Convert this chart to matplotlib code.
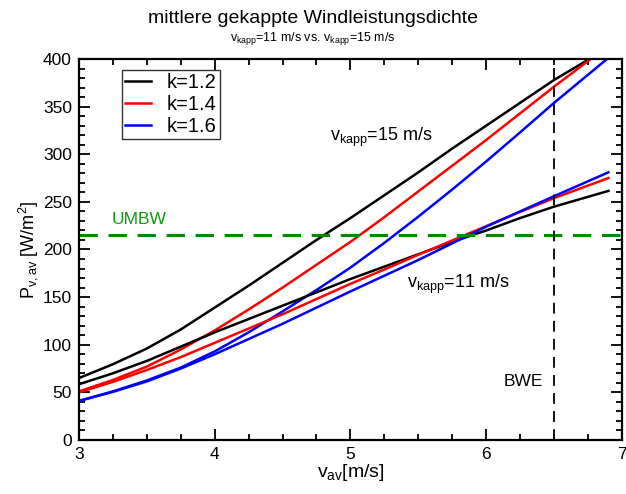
import matplotlib
matplotlib.use("Agg")
import matplotlib.pyplot as plt
from matplotlib.ticker import MultipleLocator

plt.rcParams['font.family'] = ['Liberation Sans', 'DejaVu Sans']
plt.rcParams['mathtext.fontset'] = 'custom'
plt.rcParams['mathtext.rm'] = 'Liberation Sans'
plt.rcParams['mathtext.it'] = 'Liberation Sans'
plt.rcParams['mathtext.default'] = 'regular'

# data
v_av = [3.0, 3.25, 3.5, 3.75, 4.0, 4.25, 4.5, 4.75, 5.0, 5.25, 5.5, 5.75, 6.0, 6.25, 6.5]
# v_kapp = 15 m/s (last point where the curve leaves the top of the plot)
x15_k12 = v_av + [6.76]
p15_k12 = [65, 79.5, 96, 116, 139, 162, 186, 210, 233, 257, 281, 306, 330, 354, 378, 400]
x15_k14 = v_av + [6.77]
p15_k14 = [51, 63, 77, 95, 115, 137, 160, 184, 208, 234, 261, 288, 315, 343, 371, 400]
x15_k16 = v_av + [6.89]
p15_k16 = [41, 51, 62.5, 76, 93, 113, 135, 157.5, 181, 207, 234.5, 263, 292.5, 323, 354, 400]
# v_kapp = 11 m/s
x11 = v_av + [6.9]
p11_k12 = [58.5, 70, 83, 98, 113, 127, 141, 155, 169, 182, 195, 208, 220, 233, 245, 261.5]
p11_k14 = [50, 61, 73.5, 87, 102, 117, 132, 148, 164, 179, 194.5, 209.5, 224.5, 239.5, 254, 275]
p11_k16 = [41, 50.5, 61.5, 75, 90, 106, 122, 139, 156, 172.5, 189, 206.5, 224, 240, 256, 281]

k_labels = ['k=1.2', 'k=1.4', 'k=1.6']
colors = ['black', 'red', 'blue']
umbw = 215
bwe = 6.5

fig = plt.figure(figsize=(6.26, 4.94), dpi=100)
ax = fig.add_axes([0.126, 0.1093, 0.8676, 0.7713])

lines = []
for xs, ps, c, lab in zip([x15_k12, x15_k14, x15_k16], [p15_k12, p15_k14, p15_k16], colors, k_labels):
    l, = ax.plot(xs, ps, color=c, lw=1.8, label=lab)
    lines.append(l)
for ps, c in zip([p11_k12, p11_k14, p11_k16], colors):
    ax.plot(x11, ps, color=c, lw=1.8)

ax.axhline(umbw, color='#008c00', lw=2.2, ls=(0, (6, 3.5)))
ax.axvline(bwe, color='black', lw=1.3, ls=(0, (6, 4)))

ax.text(3.24, 226.5, 'UMBW', color='#119911', fontsize=12.5, va='baseline')
ax.text(6.42, 61, 'BWE', fontsize=12.5, ha='right', va='center')
ax.text(4.85, 314, r'$v_{kapp}$=15 m/s', fontsize=13, va='baseline')
ax.text(5.42, 160, r'$v_{kapp}$=11 m/s', fontsize=13, va='baseline')

ax.set_xlim(3, 7)
ax.set_ylim(0, 400)
ax.xaxis.set_major_locator(MultipleLocator(1))
ax.xaxis.set_minor_locator(MultipleLocator(0.25))
ax.yaxis.set_major_locator(MultipleLocator(50))
ax.yaxis.set_minor_locator(MultipleLocator(10))
ax.tick_params(which='both', direction='in', top=True, right=True, width=1.3, labelsize=12.5)
ax.tick_params(which='major', length=8, pad=5)
ax.tick_params(which='minor', length=4)
for s in ax.spines.values():
    s.set_linewidth(1.6)

ax.set_xlabel(r'$v_{av}$[m/s]', fontsize=14, labelpad=0)
ax.set_ylabel(r'$P_{v,av}$ [W/m$^2$]', fontsize=13, labelpad=2)

leg = ax.legend(handles=lines, loc='upper left', bbox_to_anchor=(0.079, 0.97),
                fontsize=14.5, frameon=True, fancybox=False, edgecolor='black',
                handlelength=1.3, handletextpad=0.8, borderpad=0.15, labelspacing=0.15,
                borderaxespad=0)
leg.get_frame().set_linewidth(1.0)

fig.text(0.5, 0.962, 'mittlere gekappte Windleistungsdichte', ha='center', va='center', fontsize=14)
fig.text(0.5, 0.922, r'$v_{kapp}$=11 m/s vs. $v_{kapp}$=15 m/s', ha='center', va='center', fontsize=9)

fig.savefig('out.png', dpi=100)
